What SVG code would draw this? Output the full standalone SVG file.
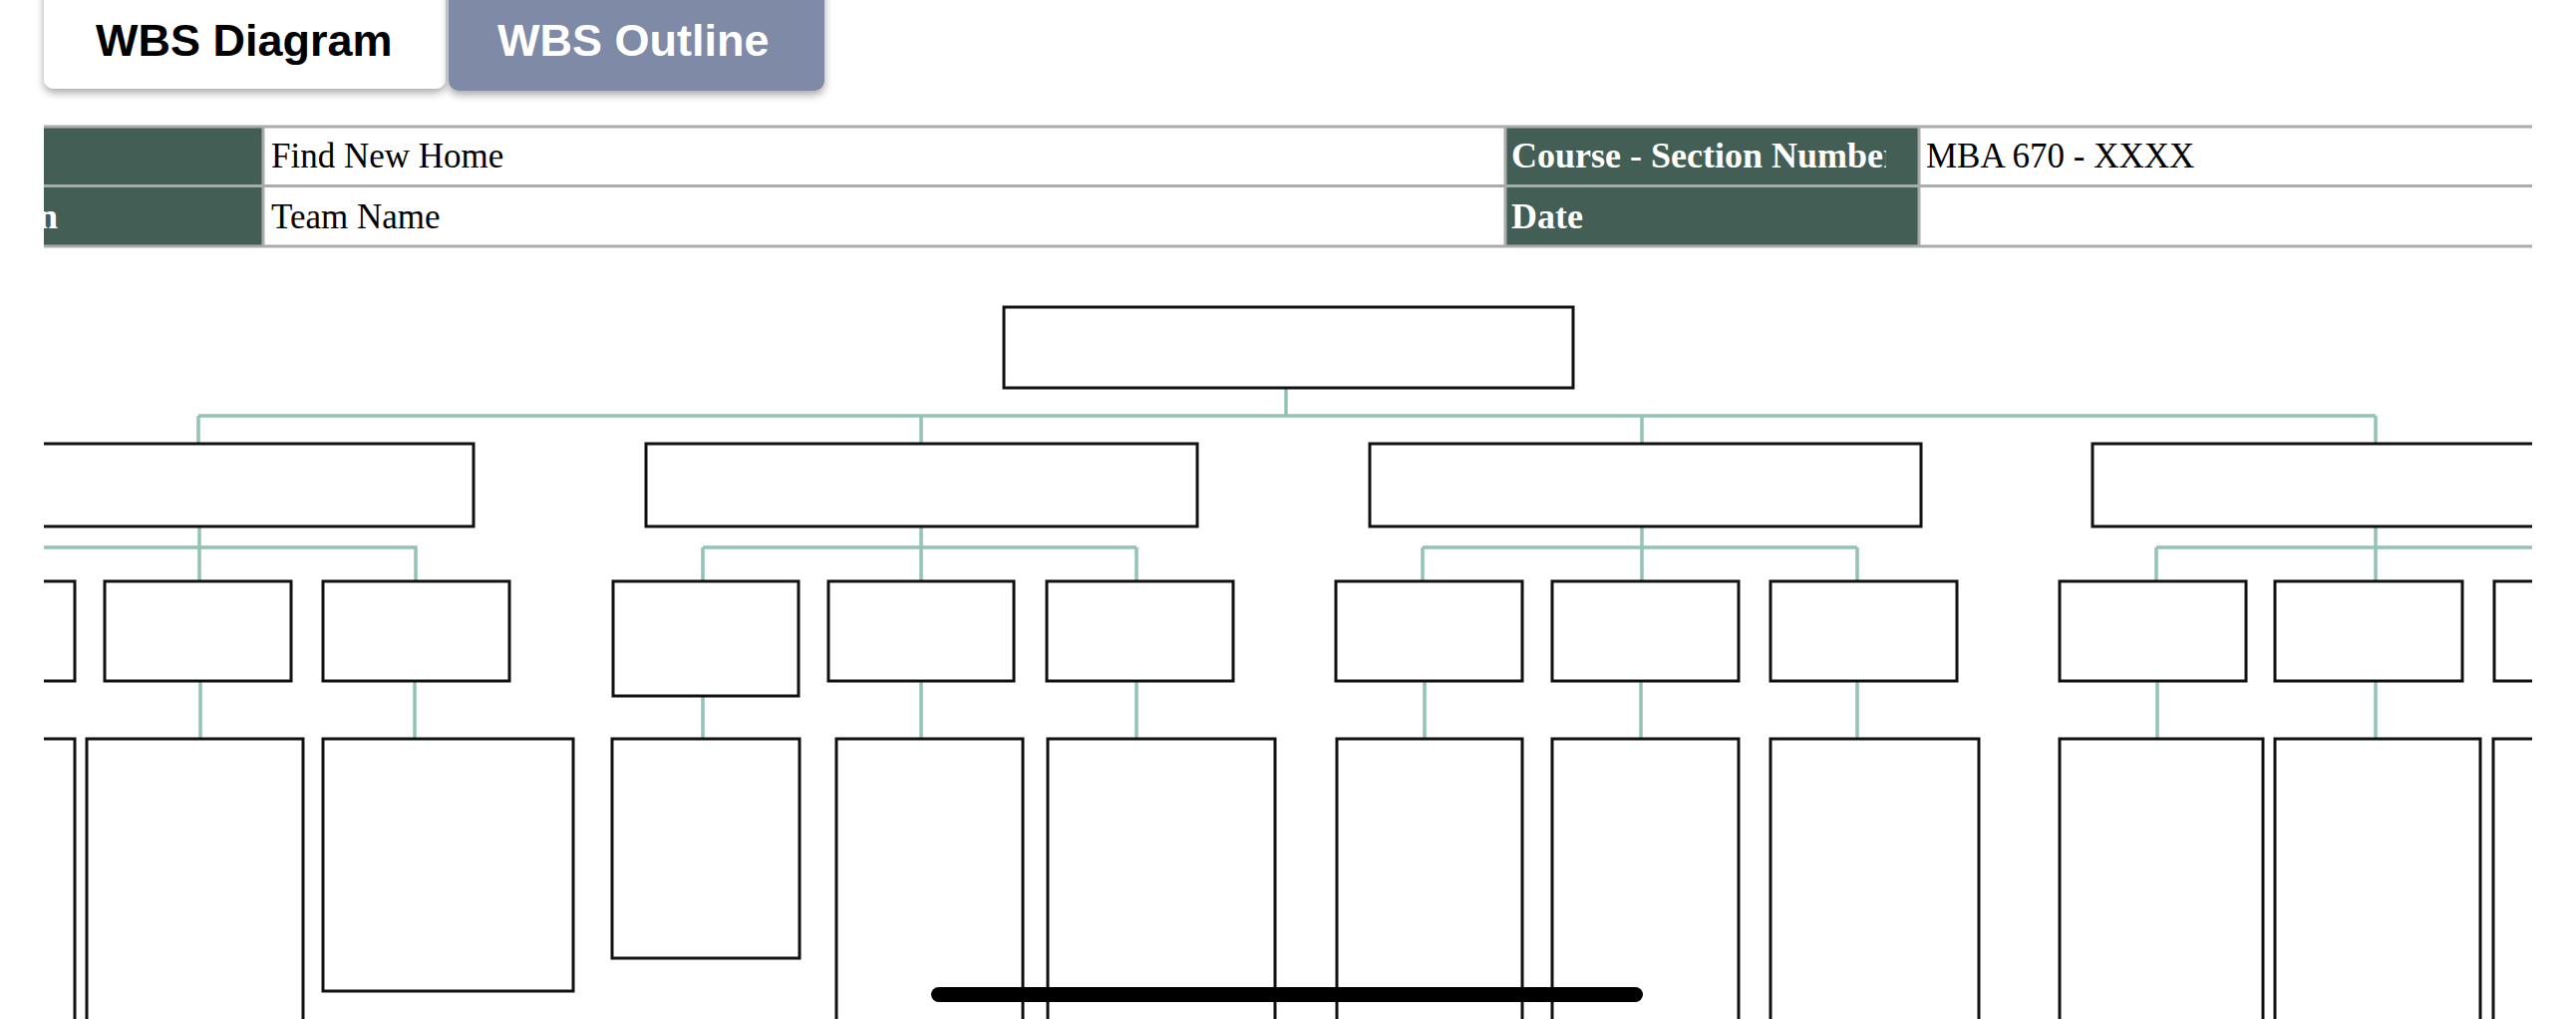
<svg xmlns="http://www.w3.org/2000/svg" width="2584" height="1022" viewBox="0 0 2584 1022">
  <style>
    .box { fill: #ffffff; stroke: #111111; stroke-width: 3; }
    .conn { fill: none; stroke: #92c3b3; stroke-width: 3.5; }
    .dark { fill: #435e55; }
    .grid { stroke: #ababab; stroke-width: 3; fill: none; }
    .cell { font-family: "Liberation Serif", "Times New Roman", serif; font-size: 35px; fill: #000000; }
    .hdr { font-family: "Liberation Serif", "Times New Roman", serif; font-size: 36px; font-weight: bold; fill: #ffffff; }
    .tab { font-family: "Liberation Sans", Arial, sans-serif; font-size: 45px; font-weight: bold; }
  </style>
  <defs>
    <filter id="shadow" x="-10%" y="-20%" width="120%" height="150%">
      <feDropShadow dx="0" dy="4" stdDeviation="4" flood-color="#000000" flood-opacity="0.35"/>
    </filter>
    <clipPath id="view">
      <rect x="44" y="0" width="2496" height="1022"/>
    </clipPath>
    <clipPath id="courseClip">
      <rect x="1510" y="127" width="382" height="60"/>
    </clipPath>
    <clipPath id="leftClip">
      <rect x="44" y="127" width="220" height="120"/>
    </clipPath>
  </defs>
  <rect x="0" y="0" width="2584" height="1022" fill="#ffffff"/>

  <!-- Tabs -->
  <g id="tab-diagram">
    <rect x="44" y="-20" width="403" height="109" rx="10" ry="10" fill="#ffffff" filter="url(#shadow)"/>
    <text class="tab" x="96" y="56" fill="#000000">WBS Diagram</text>
  </g>
  <g id="tab-outline">
    <rect x="450" y="-20" width="377" height="111" rx="10" ry="10" fill="#7f8aa6" filter="url(#shadow)"/>
    <text class="tab" x="499" y="56" fill="#ffffff">WBS Outline</text>
  </g>

  <!-- Header table -->
  <g id="header-table" clip-path="url(#view)">
    <rect class="dark" x="44" y="127" width="220" height="120"/>
    <rect class="dark" x="1510" y="127" width="415" height="120"/>
    <line class="grid" x1="44" y1="127" x2="2540" y2="127"/>
    <line class="grid" x1="44" y1="186.5" x2="2540" y2="186.5"/>
    <line class="grid" x1="44" y1="247" x2="2540" y2="247"/>
    <line class="grid" x1="264" y1="127" x2="264" y2="247"/>
    <line class="grid" x1="1510" y1="127" x2="1510" y2="247"/>
    <line class="grid" x1="1925" y1="127" x2="1925" y2="247"/>
    <text class="hdr" x="38" y="229" clip-path="url(#leftClip)">n</text>
    <text class="cell" x="272" y="168">Find New Home</text>
    <text class="cell" x="272" y="229">Team Name</text>
    <text class="hdr" x="1516" y="168" clip-path="url(#courseClip)">Course - Section Number</text>
    <text class="hdr" x="1516" y="229">Date</text>
    <text class="cell" x="1932" y="168">MBA 670 - XXXX</text>
  </g>

  <g clip-path="url(#view)">
    <!-- Connectors -->
    <g id="connectors">
      <path class="conn" d="M1290 389 V417 M199 417 H2383 M199 417 V445 M924 417 V445 M1647 417 V445 M2383 417 V445"/>
      <!-- group A -->
      <path class="conn" d="M200 528 V583 M40 549 H417 V583 M201 683 V741 M416 683 V741"/>
      <!-- group B -->
      <path class="conn" d="M924 528 V583 M705 549 H1140 M705 549 V583 M1140 549 V583 M705 698 V741 M924 683 V741 M1140 683 V741"/>
      <!-- group C -->
      <path class="conn" d="M1647 528 V583 M1427 549 H1863 M1427 549 V583 M1863 549 V583 M1429 683 V741 M1646 683 V741 M1863 683 V741"/>
      <!-- group D -->
      <path class="conn" d="M2383 528 V583 M2163 549 H2600 M2163 549 V583 M2164 683 V741 M2383 683 V741"/>
    </g>

    <!-- Root -->
    <g id="root"><rect class="box" x="1007" y="308" width="571" height="81"/></g>

    <!-- Level 2 -->
    <g id="l2-a"><rect class="box" x="-78" y="445" width="553" height="83"/></g>
    <g id="l2-b"><rect class="box" x="648" y="445" width="553" height="83"/></g>
    <g id="l2-c"><rect class="box" x="1374" y="445" width="553" height="83"/></g>
    <g id="l2-d"><rect class="box" x="2099" y="445" width="566" height="83"/></g>

    <!-- Level 3 -->
    <g id="l3-a1"><rect class="box" x="-111" y="583" width="186" height="100"/></g>
    <g id="l3-a2"><rect class="box" x="105" y="583" width="187" height="100"/></g>
    <g id="l3-a3"><rect class="box" x="324" y="583" width="187" height="100"/></g>
    <g id="l3-b1"><rect class="box" x="615" y="583" width="186" height="115"/></g>
    <g id="l3-b2"><rect class="box" x="831" y="583" width="186" height="100"/></g>
    <g id="l3-b3"><rect class="box" x="1050" y="583" width="187" height="100"/></g>
    <g id="l3-c1"><rect class="box" x="1340" y="583" width="187" height="100"/></g>
    <g id="l3-c2"><rect class="box" x="1557" y="583" width="187" height="100"/></g>
    <g id="l3-c3"><rect class="box" x="1776" y="583" width="187" height="100"/></g>
    <g id="l3-d1"><rect class="box" x="2066" y="583" width="187" height="100"/></g>
    <g id="l3-d2"><rect class="box" x="2282" y="583" width="188" height="100"/></g>
    <g id="l3-d3"><rect class="box" x="2502" y="583" width="187" height="100"/></g>

    <!-- Level 4 -->
    <g id="l4-a1"><rect class="box" x="-130" y="741" width="205" height="320"/></g>
    <g id="l4-a2"><rect class="box" x="87" y="741" width="217" height="320"/></g>
    <g id="l4-a3"><rect class="box" x="324" y="741" width="251" height="253"/></g>
    <g id="l4-b1"><rect class="box" x="614" y="741" width="188" height="220"/></g>
    <g id="l4-b2"><rect class="box" x="839" y="741" width="187" height="320"/></g>
    <g id="l4-b3"><rect class="box" x="1051" y="741" width="228" height="320"/></g>
    <g id="l4-c1"><rect class="box" x="1341" y="741" width="186" height="320"/></g>
    <g id="l4-c2"><rect class="box" x="1557" y="741" width="187" height="320"/></g>
    <g id="l4-c3"><rect class="box" x="1776" y="741" width="209" height="320"/></g>
    <g id="l4-d1"><rect class="box" x="2066" y="741" width="204" height="320"/></g>
    <g id="l4-d2"><rect class="box" x="2282" y="741" width="206" height="320"/></g>
    <g id="l4-d3"><rect class="box" x="2501" y="741" width="206" height="320"/></g>
  </g>

  <!-- Home indicator -->
  <rect x="934" y="990" width="714" height="15" rx="7.5" ry="7.5" fill="#000000"/>
</svg>
